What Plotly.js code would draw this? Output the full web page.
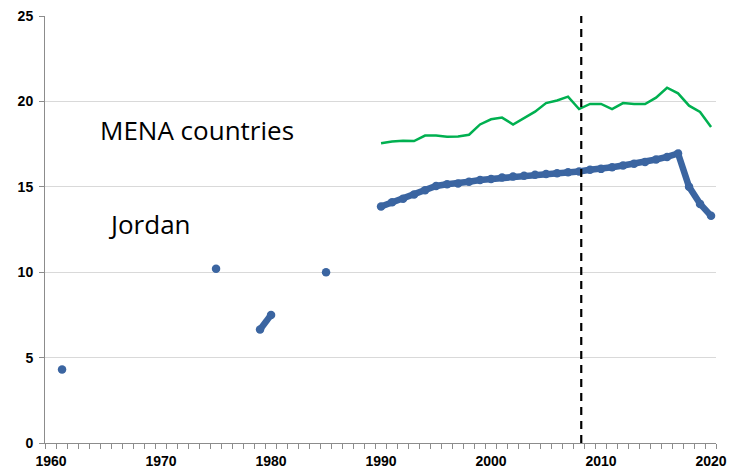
<!DOCTYPE html>
<html>
<head>
<meta charset="utf-8">
<script src="https://cdn.plot.ly/plotly-3.0.1.min.js"></script>
<style>html,body{margin:0;padding:0;background:#fff;}#chart{width:730px;height:476px;}</style>
</head>
<body>
<div id="chart"></div>
<script>
// Categories (years)
var years = [1960,1961,1962,1963,1964,1965,1966,1967,1968,1969,
             1970,1971,1972,1973,1974,1975,1976,1977,1978,1979,
             1980,1981,1982,1983,1984,1985,1986,1987,1988,1989,
             1990,1991,1992,1993,1994,1995,1996,1997,1998,1999,
             2000,2001,2002,2003,2004,2005,2006,2007,2008,2009,
             2010,2011,2012,2013,2014,2015,2016,2017,2018,2019,2020];

// Jordan series (null = no data)
var jordan = [null,4.3,null,null,null,null,null,null,null,null,
              null,null,null,null,null,10.2,null,null,null,6.65,
              7.5,null,null,null,null,10.0,null,null,null,null,
              13.85,14.1,14.3,14.55,14.8,15.05,15.15,15.2,15.3,15.4,
              15.45,15.55,15.6,15.65,15.7,15.75,15.8,15.85,15.9,16.0,
              16.05,16.15,16.25,16.35,16.45,16.6,16.75,16.95,15.0,14.0,13.3];

// MENA countries series
var mena = [null,null,null,null,null,null,null,null,null,null,
            null,null,null,null,null,null,null,null,null,null,
            null,null,null,null,null,null,null,null,null,null,
            17.55,17.65,17.7,17.68,18.0,18.0,17.93,17.95,18.05,18.65,
            18.95,19.05,18.65,19.0,19.4,19.9,20.05,20.28,19.55,19.85,
            19.85,19.55,19.9,19.85,19.85,20.22,20.8,20.47,19.75,19.38,18.5];

var xTickVals = [1960,1970,1980,1990,2000,2010,2020];
var yTickVals = [0,5,10,15,20,25];
var markerYear = 2008;
var labels = [
  {text:'MENA countries', year:1964.3, value:18.3},
  {text:'Jordan', year:1964.95, value:12.8}
];

var traces = [
  {x: years, y: mena, type:'scatter', mode:'lines', connectgaps:false,
   line:{color:'#00B050', width:2.5}, hoverinfo:'skip'},
  {x: years, y: jordan, type:'scatter', mode:'lines+markers', connectgaps:false,
   line:{color:'#3B65A1', width:6.5}, marker:{color:'#3B65A1', size:8.5}, hoverinfo:'skip'}
];

var layout = {
  width:730, height:476,
  margin:{l:45, r:14, t:16, b:33},
  paper_bgcolor:'#fff', plot_bgcolor:'#fff',
  showlegend:false,
  font:{family:'Liberation Sans, Arial, sans-serif', color:'#000'},
  xaxis:{
    range:[1959.45, 2020.45],
    tickvals:xTickVals, ticktext:xTickVals.map(String),
    ticks:'', showgrid:false, zeroline:false,
    showline:true, linecolor:'#8c8c8c', linewidth:1,
    tickfont:{family:'Liberation Sans, Arial, sans-serif', size:14, color:'#000', weight:'bold'},
    ticklabelstandoff:5,
    minor:{ticks:'outside', ticklen:5, tickcolor:'#8c8c8c', tickwidth:1, tick0:1959.45, dtick:1, showgrid:false}
  },
  yaxis:{
    range:[0,25],
    tickvals:yTickVals,
    ticks:'outside', ticklen:5, tickcolor:'#8c8c8c',
    showgrid:true, gridcolor:'#d9d9d9', gridwidth:1,
    zeroline:false, showline:true, linecolor:'#8c8c8c', linewidth:1,
    tickfont:{family:'Liberation Sans, Arial, sans-serif', size:14, color:'#000', weight:'bold'},
    ticklabelstandoff:3
  },
  shapes:[{type:'line', xref:'x', yref:'paper', x0:markerYear+0.2, x1:markerYear+0.2, y0:0, y1:1,
           line:{color:'#000', width:2.2, dash:'8px,6px'}}],
  annotations: labels.map(function(l){
    return {text:l.text, x:l.year, y:l.value, xref:'x', yref:'y', xanchor:'left', yanchor:'middle',
            showarrow:false, font:{family:'Open Sans, Liberation Sans, sans-serif', size:26, color:'#000'}};
  })
};

Plotly.newPlot('chart', traces, layout, {staticPlot:true, displayModeBar:false});
</script>
</body>
</html>
